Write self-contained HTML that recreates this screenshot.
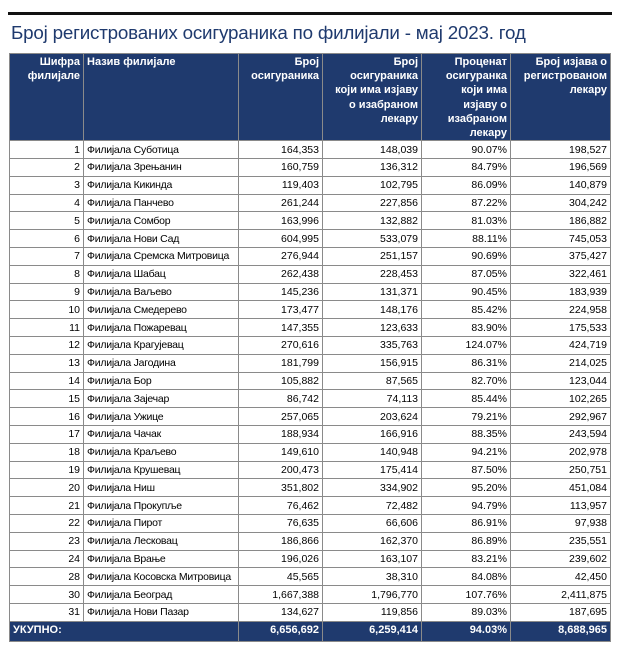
<!DOCTYPE html>
<html><head><meta charset="utf-8"><style>
body{margin:0;width:618px;height:656px;background:#fff;position:relative;font-family:"Liberation Sans",sans-serif;overflow:hidden}
#rule{position:absolute;left:8px;top:12px;width:604px;height:3px;background:#111}
#title{position:absolute;left:11px;top:22px;font-size:18.8px;color:#1f3a6e;white-space:nowrap;letter-spacing:-0.2px}
table{position:absolute;left:9px;top:53px;border-collapse:collapse;font-size:10.5px;table-layout:fixed}
td,th{border:1px solid #8a8a8a;padding:0 3px;white-space:nowrap;overflow:hidden}
th{background:#1f3a6e;color:#fff;font-weight:bold;vertical-align:top;text-align:right;line-height:14.2px;padding-top:1px;height:84px;white-space:normal;font-size:11px}
td{height:16.8px;text-align:right;line-height:16px}
td.n{text-align:left;letter-spacing:-0.25px;padding-right:0}
tr.f td{background:#1f3a6e;color:#fff;font-weight:bold;height:19px;vertical-align:top;font-size:11px}
</style></head><body>
<div id="rule"></div>
<div id="title">Број регистрованих осигураника по филијали - мај 2023. год</div>
<table>
<colgroup><col style="width:74px"><col style="width:155px"><col style="width:84px"><col style="width:99px"><col style="width:89px"><col style="width:100px"></colgroup>
<thead><tr>
<th>Шифра филијале</th>
<th style="text-align:left">Назив филијале</th>
<th>Број осигураника</th>
<th>Број осигураника који има изјаву о изабраном лекару</th>
<th>Проценат осигуранка који има изјаву о изабраном лекару</th>
<th>Број изјава о регистрованом лекару</th>
</tr></thead>
<tbody id="tb"></tbody>
</table>
<script>
const codes=[1,2,3,4,5,6,7,8,9,10,11,12,13,14,15,16,17,18,19,20,21,22,23,24,28,30,31];
const names=["Суботица","Зрењанин"," Кикинда","Панчево","Сомбор","Нови Сад","Сремска Митровица","Шабац","Ваљево","Смедерево","Пожаревац","Крагујевац","Јагодина","Бор","Зајечар","Ужице","Чачак","Краљево","Крушевац","Ниш","Прокупље","Пирот","Лесковац","Врање","Косовска Митровица","Београд","Нови Пазар"];
const insured=["164,353","160,759","119,403","261,244","163,996","604,995","276,944","262,438","145,236","173,477","147,355","270,616","181,799","105,882","86,742","257,065","188,934","149,610","200,473","351,802","76,462","76,635","186,866","196,026","45,565","1,667,388","134,627"];
const withStmt=["148,039","136,312","102,795","227,856","132,882","533,079","251,157","228,453","131,371","148,176","123,633","335,763","156,915","87,565","74,113","203,624","166,916","140,948","175,414","334,902","72,482","66,606","162,370","163,107","38,310","1,796,770","119,856"];
const pct=["90.07%","84.79%","86.09%","87.22%","81.03%","88.11%","90.69%","87.05%","90.45%","85.42%","83.90%","124.07%","86.31%","82.70%","85.44%","79.21%","88.35%","94.21%","87.50%","95.20%","94.79%","86.91%","86.89%","83.21%","84.08%","107.76%","89.03%"];
const stmts=["198,527","196,569","140,879","304,242","186,882","745,053","375,427","322,461","183,939","224,958","175,533","424,719","214,025","123,044","102,265","292,967","243,594","202,978","250,751","451,084","113,957","97,938","235,551","239,602","42,450","2,411,875","187,695"];
const tb=document.getElementById('tb');
codes.forEach((c,i)=>{
 const tr=document.createElement('tr');
 
 
 [[c,''],['Филијала '+names[i],'n'],[insured[i],''],[withStmt[i],''],[pct[i],''],[stmts[i],'']].forEach(v=>{
  const td=document.createElement('td');td.textContent=v[0];if(v[1])td.className=v[1];
  
  
  tr.appendChild(td);});
 tb.appendChild(tr);});
const f=document.createElement('tr');f.className='f';


f.innerHTML='<td colspan="2" style="text-align:left">УКУПНО:</td><td>6,656,692</td><td>6,259,414</td><td>94.03%</td><td>8,688,965</td>';
tb.appendChild(f);
</script>
</body></html>
